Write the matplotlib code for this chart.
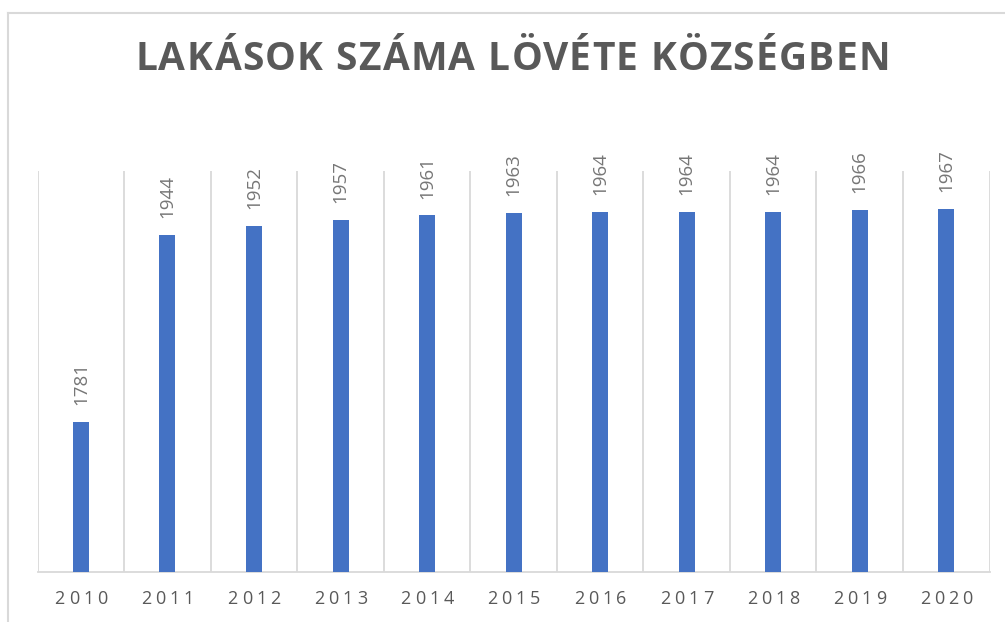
import matplotlib
matplotlib.use("Agg")
import matplotlib.pyplot as plt
from matplotlib.lines import Line2D

years = ["2010", "2011", "2012", "2013", "2014", "2015", "2016", "2017", "2018", "2019", "2020"]
counts = [1781, 1944, 1952, 1957, 1961, 1963, 1964, 1964, 1964, 1966, 1967]

TITLE = "LAKÁSOK SZÁMA LÖVÉTE KÖZSÉGBEN"

W, H = 1005, 622
BAR = "#4472C4"
GRID = "#D9D9D9"
TXT = "#595959"


def spaced_text(fig, cx, cy, s, total_w=None, gap=0.0, **kw):
    """Draw s char by char (letter spacing), centred on pixel (cx, cy)."""
    r = fig.canvas.get_renderer()

    def width(txt):
        t = fig.text(0, 0, txt, **kw)
        w = t.get_window_extent(r).width
        t.remove()
        return w

    bar_w = width("|")
    offs = [width(s[:i] + "|") - bar_w if i else 0.0 for i in range(len(s))]
    nat = width(s)
    if total_w is not None:
        gap = (total_w - nat) / (len(s) - 1)
    full = nat + gap * (len(s) - 1)
    x0 = cx - full / 2
    for i, ch in enumerate(s):
        if ch == " ":
            continue
        fig.text((x0 + offs[i] + i * gap) / W, 1 - cy / H, ch,
                 ha="left", va="center", **kw)


fig = plt.figure(figsize=(W / 100, H / 100), dpi=100, facecolor="white")

# outer frame (only left/top edges visible in the crop)
fig.add_artist(Line2D([8 / W, 8 / W], [0, 1 - 13 / H], color=GRID, lw=1.5, transform=fig.transFigure))
fig.add_artist(Line2D([8 / W, 1], [1 - 13 / H, 1 - 13 / H], color=GRID, lw=1.5, transform=fig.transFigure))

left, right, top, bottom = 37.7, 989.5, 170.7, 571.7
ax = fig.add_axes([left / W, 1 - bottom / H, (right - left) / W, (bottom - top) / H])

x = range(len(years))
ax.bar(x, counts, width=0.185, color=BAR, zorder=3)
ax.set_xlim(-0.5, len(years) - 0.5)
ax.set_ylim(1650, 2000)

for b in [i - 0.5 for i in range(len(years) + 1)]:
    ax.axvline(b, color=GRID, lw=1.3, zorder=1)

for s in ["top", "right", "left"]:
    ax.spines[s].set_visible(False)
ax.spines["bottom"].set_color(GRID)
ax.spines["bottom"].set_linewidth(1.3)
ax.set_xticks([])
ax.set_yticks([])

for i, v in enumerate(counts):
    ax.annotate(str(v), (i, v), xytext=(0, 12), textcoords="offset points",
                rotation=90, ha="center", va="bottom", fontsize=13.5,
                family="Open Sans", color="#767676")

fig.canvas.draw()

# category labels, letter-spaced
step = (right - left) / len(years)
for i, yr in enumerate(years):
    spaced_text(fig, left + step * (i + 0.5), 599, yr, total_w=53,
                fontsize=13, family="Open Sans", color=TXT)

# title, letter-spaced
spaced_text(fig, 512.5, 59, TITLE, total_w=755, fontsize=28,
            family="Open Sans", fontweight="bold", color=TXT)

fig.savefig("out.png", dpi=100, facecolor="white")
